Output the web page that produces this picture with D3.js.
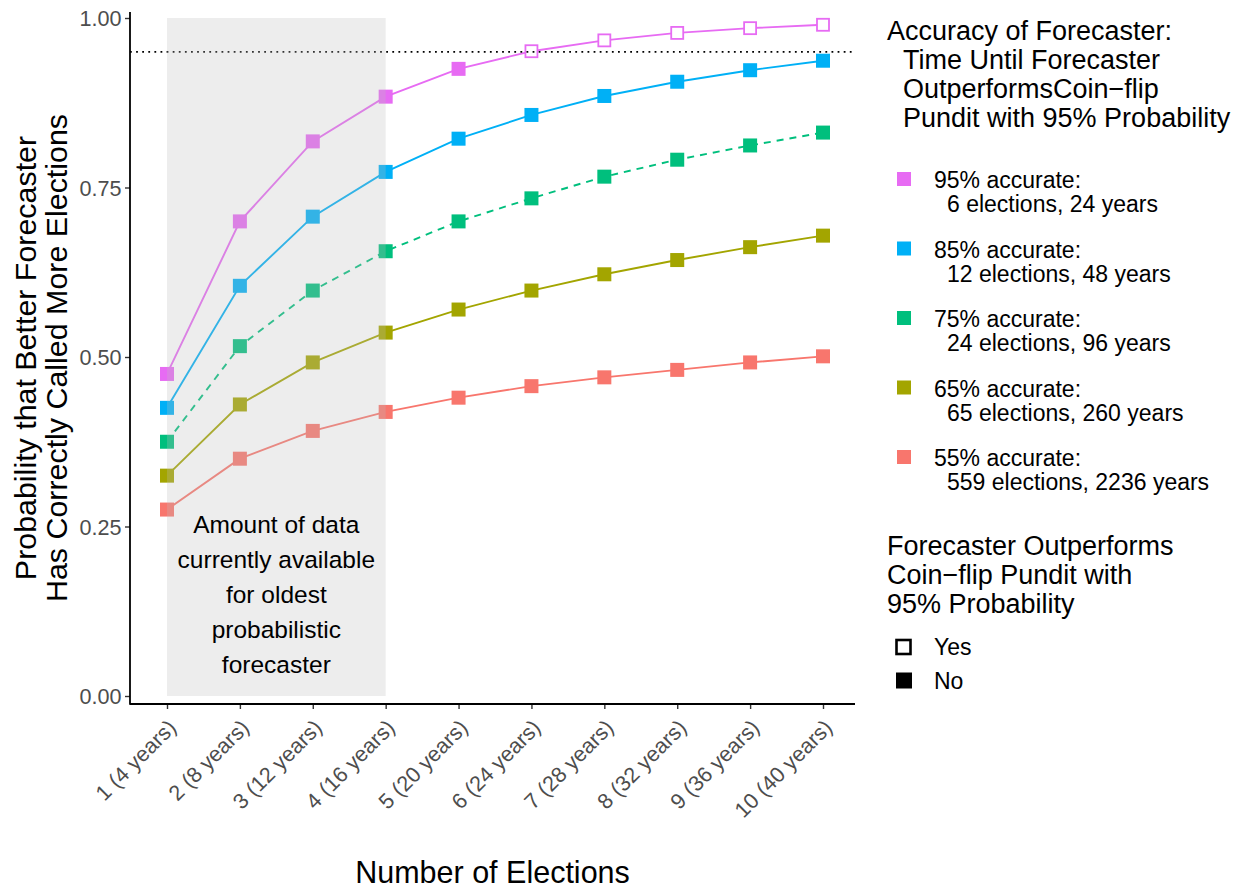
<!DOCTYPE html>
<html><head><meta charset="utf-8">
<script src="https://cdn.jsdelivr.net/npm/d3@7"></script>
<style>body{margin:0;background:#fff}svg{font-family:"Liberation Sans",Arial,sans-serif}</style>
</head><body><svg id="c" width="1242" height="888"></svg>
<script>
const elections = [1,2,3,4,5,6,7,8,9,10];
const tickLabels = ["1 (4 years)","2 (8 years)","3 (12 years)","4 (16 years)","5 (20 years)","6 (24 years)","7 (28 years)","8 (32 years)","9 (36 years)","10 (40 years)"];
const acc95 = [0.475,0.700,0.818,0.884,0.925,0.951,0.967,0.978,0.985,0.990];
const acc85 = [0.425,0.605,0.707,0.773,0.822,0.857,0.885,0.906,0.923,0.937];
const acc75 = [0.375,0.516,0.598,0.656,0.700,0.734,0.766,0.791,0.812,0.831];
const acc65 = [0.325,0.430,0.492,0.536,0.570,0.598,0.622,0.643,0.662,0.679];
const acc55 = [0.275,0.350,0.391,0.419,0.440,0.457,0.470,0.481,0.492,0.501];
const seriesNames = ["95% accurate:","85% accurate:","75% accurate:","65% accurate:","55% accurate:"];
const seriesSub = ["6 elections, 24 years","12 elections, 48 years","24 elections, 96 years","65 elections, 260 years","559 elections, 2236 years"];
const seriesColors = ["#E76BF3","#00B0F6","#00BF7D","#A3A500","#F8766D"];
const seriesDash = [null,null,"7,6",null,null];
const threshold = 0.95;
const yTicks = [0,0.25,0.5,0.75,1];
const shadeRange = [1,4];
const shadeText = ["Amount of data","currently available","for oldest","probabilistic","forecaster"];

const series = [acc95,acc85,acc75,acc65,acc55].map((v,i)=>({name:seriesNames[i],sub:seriesSub[i],color:seriesColors[i],dash:seriesDash[i],values:v}));

const svg = d3.select("#c");
const x = d3.scaleLinear().domain([1,10]).range([167,823]);
const y = d3.scaleLinear().domain([0,1]).range([696,18]);
const panel = {l:130,r:855,t:12,b:704};

const g = svg.append("g");
const line = d3.line().x((d,i)=>x(elections[i])).y(d=>y(d));
series.slice().reverse().forEach(s=>{
  g.append("path").attr("d",line(s.values)).attr("fill","none").attr("stroke",s.color)
   .attr("stroke-width",1.9).attr("stroke-dasharray",s.dash);
});
const sz = 14;
series.slice().reverse().forEach(s=>{
  s.values.forEach((v,i)=>{
    const open = v>=threshold;
    g.append("rect").attr("x",x(elections[i])-sz/2+(open?1:0)).attr("y",y(v)-sz/2+(open?1:0))
     .attr("width",open?sz-2:sz).attr("height",open?sz-2:sz)
     .attr("fill",open?"#fff":s.color).attr("stroke",open?s.color:"none").attr("stroke-width",open?1.8:0);
  });
});
svg.append("line").attr("x1",panel.l).attr("x2",panel.r).attr("y1",y(threshold)).attr("y2",y(threshold))
  .attr("stroke","#000").attr("stroke-width",1.8).attr("stroke-dasharray","1.8,4.3");
svg.append("rect").attr("x",x(shadeRange[0])).attr("width",x(shadeRange[1])-x(shadeRange[0]))
  .attr("y",y(1)).attr("height",y(0)-y(1)).attr("fill","#bebebe").attr("opacity",0.27);
const st = svg.append("text").attr("text-anchor","middle").attr("font-size",24.5).attr("fill","#000");
shadeText.forEach((t,i)=>st.append("tspan").attr("x",(x(shadeRange[0])+x(shadeRange[1]))/2).attr("y",533+i*35).text(t));

// axes
const yAxis = d3.axisLeft(y).tickValues(yTicks).tickFormat(d3.format(".2f")).tickSize(5).tickSizeOuter(0);
const ya = svg.append("g").attr("transform",`translate(${panel.l},0)`).call(yAxis);
ya.select(".domain").remove();
ya.selectAll("text").attr("font-size",21.6).attr("fill","#4D4D4D").attr("font-family","Liberation Sans, Arial").attr("dx",-0.5).attr("dy","0.36em");
ya.selectAll(".tick line").attr("stroke","#333").attr("stroke-width",1.4);
svg.append("line").attr("x1",panel.l).attr("x2",panel.l).attr("y1",panel.t).attr("y2",panel.b+0.8).attr("stroke","#000").attr("stroke-width",1.8);

const xAxis = d3.axisBottom(x).tickValues(elections).tickFormat((d,i)=>tickLabels[i]).tickSize(5).tickSizeOuter(0);
const xa = svg.append("g").attr("transform",`translate(0,${panel.b})`).call(xAxis);
xa.select(".domain").remove();
xa.selectAll(".tick line").attr("stroke","#333").attr("stroke-width",1.4);
xa.selectAll("text").attr("font-size",21.6).attr("fill","#4D4D4D").attr("font-family","Liberation Sans, Arial")
  .attr("text-anchor","end").attr("dy",0).attr("y",0)
  .attr("transform","translate(10,25) rotate(-45)");
svg.append("line").attr("x1",panel.l).attr("x2",panel.r).attr("y1",panel.b).attr("y2",panel.b).attr("stroke","#000").attr("stroke-width",1.8);

// axis titles
svg.append("text").attr("x",(panel.l+panel.r)/2).attr("y",883).attr("text-anchor","middle").attr("font-size",30.5).text("Number of Elections");
const yt = svg.append("text").attr("transform",`translate(0,358) rotate(-90)`).attr("text-anchor","middle").attr("font-size",30.4);
yt.append("tspan").attr("x",0).attr("y",36).text("Probability that Better Forecaster");
yt.append("tspan").attr("x",0).attr("y",67).text("Has Correctly Called More Elections");

// legend 1
const lg = svg.append("g");
const ltitle = ["Accuracy of Forecaster:","Time Until Forecaster","OutperformsCoin\u2212flip","Pundit with 95% Probability"];
const lt = lg.append("text").attr("font-size",27);
ltitle.forEach((t,i)=>lt.append("tspan").attr("x",i?903:887).attr("y",40+i*29).text(t));
series.forEach((s,i)=>{
  const cy = 179+i*69.5;
  lg.append("rect").attr("x",897).attr("y",cy-7).attr("width",14).attr("height",14).attr("fill",s.color);
  lg.append("text").attr("x",934).attr("y",cy+9).attr("font-size",23).text(s.name);
  lg.append("text").attr("x",947).attr("y",cy+33).attr("font-size",23).text(s.sub);
});
// legend 2
const l2 = ["Forecaster Outperforms","Coin\u2212flip Pundit with","95% Probability"];
const lt2 = lg.append("text").attr("font-size",27);
l2.forEach((t,i)=>lt2.append("tspan").attr("x",887).attr("y",555+i*29).text(t));
const shapes = [{label:"Yes",open:true},{label:"No",open:false}];
shapes.forEach((s,i)=>{
  const cy = 647+i*33.5;
  if (s.open) {
    lg.append("rect").attr("x",896.5).attr("y",cy-7).attr("width",14).attr("height",14)
      .attr("fill","#fff").attr("stroke","#000").attr("stroke-width",2.6);
  } else {
    lg.append("rect").attr("x",896).attr("y",cy-8).attr("width",16).attr("height",16).attr("fill","#000");
  }
  lg.append("text").attr("x",934).attr("y",cy+8).attr("font-size",23).text(s.label);
});
</script></body></html>
